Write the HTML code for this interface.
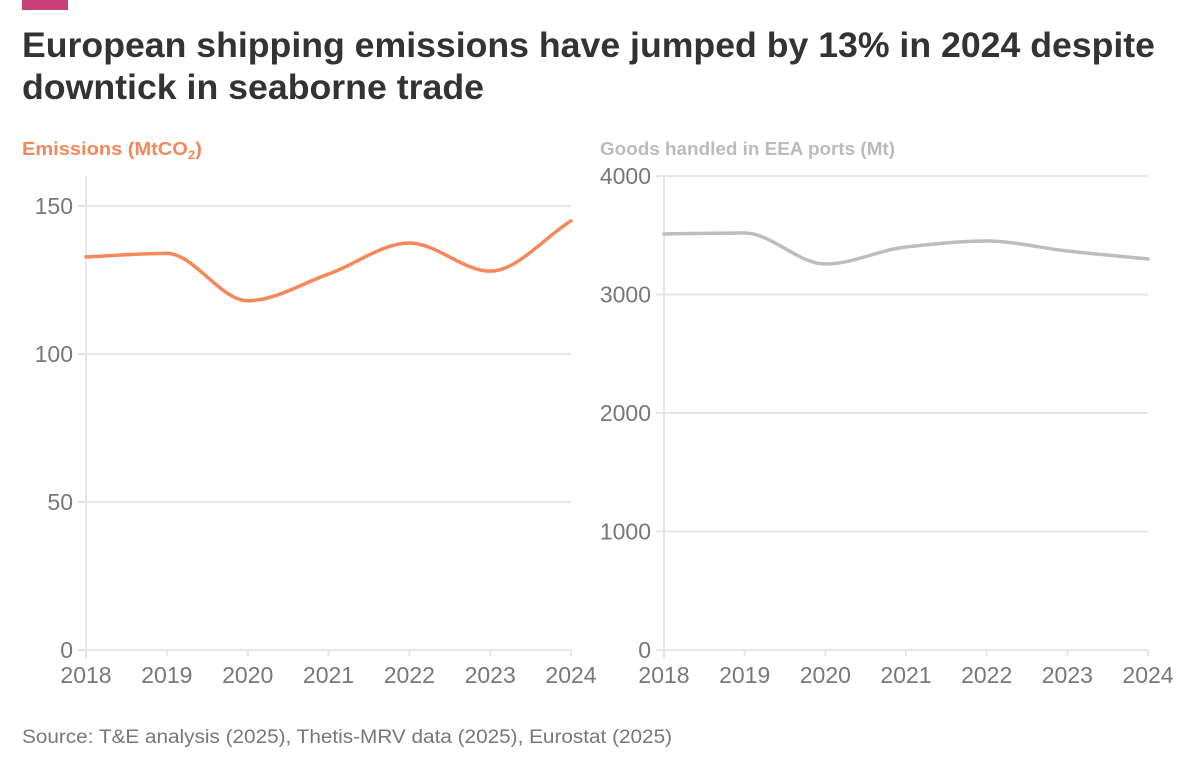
<!DOCTYPE html>
<html><head><meta charset="utf-8"><style>
html,body{margin:0;padding:0;background:#fff;}
svg{display:block;font-family:"Liberation Sans",sans-serif;}
</style></head><body>
<svg id="c" width="1200" height="776" viewBox="0 0 1200 776">
<rect x="22" y="0" width="46" height="10" fill="#c7407a"/>
<text x="22" y="57" font-size="35" font-weight="bold" fill="#333" textLength="1133" lengthAdjust="spacingAndGlyphs">European shipping emissions have jumped by 13% in 2024 despite</text>
<text x="22" y="99" font-size="35" font-weight="bold" fill="#333" textLength="462" lengthAdjust="spacingAndGlyphs">downtick in seaborne trade</text>
<text x="22" y="155" font-size="18" font-weight="bold" fill="#f5875a" textLength="180" lengthAdjust="spacingAndGlyphs">Emissions (MtCO<tspan font-size="12" dy="4">2</tspan><tspan dy="-4">)</tspan></text>
<text x="600" y="155" font-size="18" font-weight="bold" fill="#bbb" textLength="295" lengthAdjust="spacingAndGlyphs">Goods handled in EEA ports (Mt)</text>
<text x="22" y="743" font-size="19" fill="#777" textLength="650" lengthAdjust="spacingAndGlyphs">Source: T&amp;E analysis (2025), Thetis-MRV data (2025), Eurostat (2025)</text>
<g id="g"></g>
</svg>
<script>
const years = ["2018","2019","2020","2021","2022","2023","2024"];
const emissions = [132.8, 134, 118, 127, 137.5, 128, 145];
const goods = [3511, 3519, 3257, 3401, 3451, 3367, 3300];
const leftTicks = [0, 50, 100, 150];
const rightTicks = [0, 1000, 2000, 3000, 4000];

const NS = "http://www.w3.org/2000/svg";
const g = document.getElementById('g');
function el(t, a, txt){const e=document.createElementNS(NS,t);for(const k in a)e.setAttribute(k,a[k]);if(txt!==undefined)e.textContent=txt;g.appendChild(e);return e;}
function mono(pts){
  const n=pts.length,dx=[],m=[],t=[];
  for(let i=0;i<n-1;i++){dx.push(pts[i+1][0]-pts[i][0]);m.push((pts[i+1][1]-pts[i][1])/dx[i]);}
  t[0]=m[0];t[n-1]=m[n-2];
  for(let i=1;i<n-1;i++){t[i]=(m[i-1]*m[i]<=0)?0:3*(dx[i-1]+dx[i])/((2*dx[i]+dx[i-1])/m[i-1]+(dx[i]+2*dx[i-1])/m[i]);}
  let d="M"+pts[0][0]+","+pts[0][1];
  for(let i=0;i<n-1;i++){const h=dx[i]/3;d+=" C"+(pts[i][0]+h)+","+(pts[i][1]+t[i]*h)+" "+(pts[i+1][0]-h)+","+(pts[i+1][1]-t[i+1]*h)+" "+pts[i+1][0]+","+pts[i+1][1];}
  return d;
}
function panel(x0,x1,yTop,y0,maxV,ticks,vals,color,prefix){
  const xs=i=>x0+(x1-x0)*i/(years.length-1);
  const ys=v=>y0-(y0-yTop)*v/maxV;
  ticks.forEach(tv=>{
    const l=el('line',{x1:x0-8,x2:x1,y1:ys(tv),y2:ys(tv),stroke:'#e6e6e6','stroke-width':2});
    
    
    const t=el('text',{x:x0-13,y:ys(tv)+8,'font-size':23,fill:'#777','text-anchor':'end'},String(tv));
    
    
  });
  const ax=el('line',{x1:x0,x2:x0,y1:176,y2:y0+8,stroke:'#e6e6e6','stroke-width':2});
  
  
  years.forEach((yr,i)=>{
    const tk=el('line',{x1:xs(i),x2:xs(i),y1:y0,y2:y0+6,stroke:'#e6e6e6','stroke-width':2});
    
    
    const t=el('text',{x:xs(i),y:y0+33,'font-size':23,fill:'#777','text-anchor':'middle'},yr);
    
    
  });
  const p=el('path',{d:mono(vals.map((v,i)=>[xs(i),ys(v)])),fill:'none',stroke:color,'stroke-width':3.5,'stroke-linecap':'round'});
  
  
}
panel(86,571,206,650,150,leftTicks,emissions,'#f5875a','emissions');
panel(664,1148,176,650,4000,rightTicks,goods,'#bdbdbd','goods');
</script>
</body></html>
